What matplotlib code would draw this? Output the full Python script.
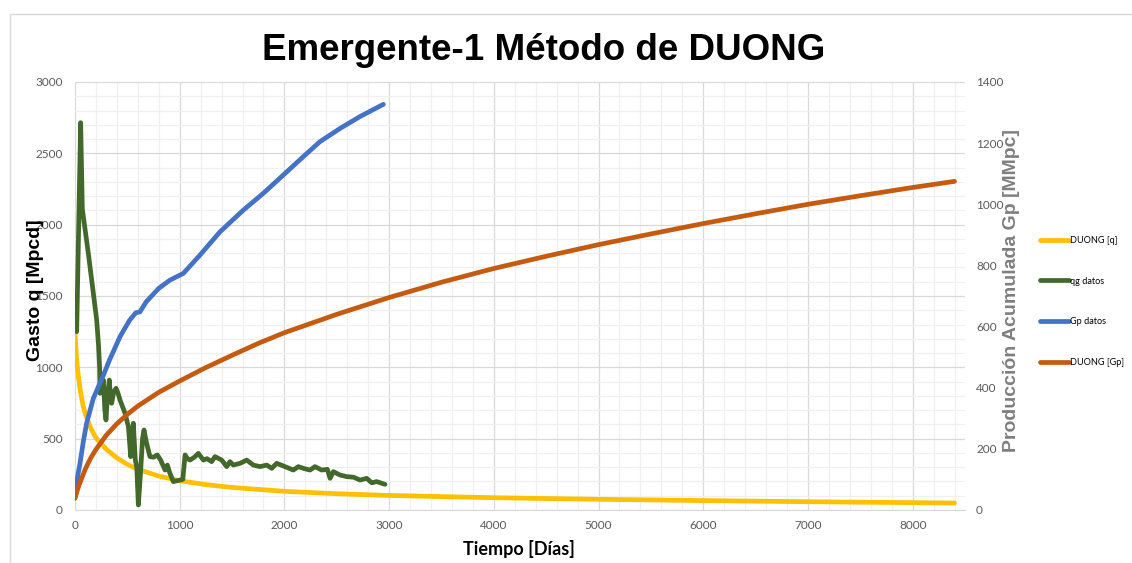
import matplotlib
matplotlib.use("Agg")
import matplotlib.pyplot as plt
from matplotlib.ticker import MultipleLocator
from matplotlib.patches import Rectangle

# ---- data ----
t_duong_q = [0, 5, 15, 30, 50, 75, 100, 150, 200, 300, 400, 500, 600, 800, 1000, 1250, 1500, 2000, 2500, 3000,
             4000, 5000, 6000, 7000, 8400]
q_duong = [1250, 1180, 1060, 950, 840, 740, 670, 575, 505, 425, 365, 320, 285, 238, 205, 178, 158, 131, 114, 102,
           86, 75, 66, 58, 49]

t_qg = [16, 54, 70, 127, 175, 207, 225, 235, 239, 255, 271, 285, 296, 310, 328, 340, 350, 370, 392, 410, 430, 478, 510, 532,
        557, 576, 590, 605, 625, 645, 659, 684, 716, 750, 786, 818, 860, 882, 905, 939, 1003, 1030, 1051, 1075, 1098,
        1140, 1178, 1226, 1260, 1305, 1337, 1401, 1449, 1480, 1512, 1576, 1640, 1703, 1767, 1831, 1879, 1926, 2006,
        2085, 2133, 2190, 2245, 2292, 2356, 2410, 2436, 2467, 2531, 2595, 2660, 2722, 2786, 2834, 2881, 2961]
q_datos = [1250, 2715, 2110, 1800, 1520, 1332, 1150, 1000, 818, 870, 911, 700, 631, 800, 911, 760, 748, 830, 853, 820, 771, 678, 584, 374,
           608, 350, 300, 35, 250, 500, 561, 467, 374, 370, 386, 350, 280, 315, 260, 199, 210, 215, 386, 360, 350,
           370, 397, 350, 360, 339, 374, 350, 304, 339, 315, 327, 350, 315, 304, 315, 292, 327, 304,
           280, 304, 290, 280, 304, 280, 285, 222, 269, 245, 234, 230, 210, 222, 191, 199, 180]

t_gp = [0, 20, 48, 80, 111, 175, 270, 330, 430, 520, 580, 620, 680, 800, 907, 1035, 1194, 1385, 1608, 1799, 2006,
        2181, 2340, 2531, 2722, 2945]
gp_datos = [38, 100, 153, 225, 284, 365, 440, 491, 567, 620, 645, 648, 681, 725, 752, 774, 834, 910, 981, 1036, 1101,
            1156, 1205, 1248, 1287, 1327]

t_duong_gp = [0, 10, 25, 50, 100, 150, 200, 300, 400, 500, 600, 800, 1000, 1250, 1500, 1750, 2000, 2500, 3000, 3500,
              4000, 4500, 5000, 5500, 6000, 6500, 7000, 7500, 8000, 8400]
gp_duong = [40, 50, 68, 92, 135, 170, 198, 245, 282, 313, 340, 385, 422, 466, 506, 545, 580, 640, 695, 745,
            790, 830, 868, 903, 937, 969, 1000, 1028, 1055, 1075]

labels = ["DUONG [q]", "qg datos", "Gp datos", "DUONG [Gp]"]
colors = ["#FFC000", "#43682B", "#4472C4", "#C55A11"]

W, H = 1132, 563
fig = plt.figure(figsize=(W / 100, H / 100), dpi=100)
fig.patch.set_facecolor("white")

# chart border
fig.patches.append(Rectangle((10 / W, -0.1), 1.2, 1 - 14 / H + 0.1, transform=fig.transFigure,
                             fill=False, edgecolor="#d9d9d9", lw=1.0))

ax = fig.add_axes([75 / W, 1 - 510 / H, (965 - 75) / W, (510 - 82) / H])
ax2 = ax.twinx()

lw = 3.4
kw = dict(lw=lw, solid_capstyle="round", solid_joinstyle="round")
l1, = ax.plot(t_duong_q, q_duong, color=colors[0], zorder=3, **kw)
l2, = ax.plot(t_qg, q_datos, color=colors[1], zorder=4, **kw)
l3, = ax2.plot(t_gp, gp_datos, color=colors[2], zorder=3, **kw)
l4, = ax2.plot(t_duong_gp, gp_duong, color=colors[3], zorder=4, **kw)

ax.set_xlim(0, 8500)
ax.set_ylim(0, 3000)
ax2.set_ylim(0, 1400)

ax.xaxis.set_major_locator(MultipleLocator(1000))
ax.xaxis.set_minor_locator(MultipleLocator(200))
ax.yaxis.set_major_locator(MultipleLocator(500))
ax.yaxis.set_minor_locator(MultipleLocator(100))
ax2.yaxis.set_major_locator(MultipleLocator(200))

ax.grid(which="major", color="#d9d9d9", lw=0.9)
ax.grid(which="minor", color="#f0f0f0", lw=0.9)
ax.set_axisbelow(True)

for a in (ax, ax2):
    for s in a.spines.values():
        s.set_visible(False)
ax.spines["bottom"].set_visible(True)
ax.spines["bottom"].set_color("#d9d9d9")

tick_font = "Lato"
ax.tick_params(axis="both", which="both", length=0, labelcolor="#595959", labelsize=8.5)
ax.tick_params(axis="y", pad=9)
ax.tick_params(axis="x", pad=7)
ax2.tick_params(axis="y", which="both", length=0, labelcolor="#595959", labelsize=8.5, pad=8)
for lab in ax.get_xticklabels() + ax.get_yticklabels() + ax2.get_yticklabels():
    lab.set_fontfamily(tick_font)

fig.text(544 / W, 1 - 50 / H, "Emergente-1 Método de DUONG", ha="center", va="center",
         fontsize=26.5, fontweight="bold", family="Liberation Sans")
fig.text(35 / W, 1 - 290 / H, "Gasto q [Mpcd]", rotation=90, ha="center", va="center",
         fontsize=14, fontweight="bold", family="Liberation Sans", color="black")
fig.text(1012 / W, 1 - 290 / H, "Producción Acumulada Gp [MMpc]", rotation=90, ha="center", va="center",
         fontsize=14, fontweight="bold", family="Liberation Sans", color="#7f7f7f")
fig.text(519 / W, 1 - 549 / H, "Tiempo [Días]", ha="center", va="center",
         fontsize=13, fontweight="bold", family="Lato", color="black")

leg = fig.legend([l1, l2, l3, l4], labels, loc="upper left", bbox_to_anchor=(1040 / W, 1 - 236 / H),
                 frameon=False, handlelength=3.2, handletextpad=0.1, labelspacing=3.45,
                 borderpad=0, borderaxespad=0, prop={"family": "Lato", "size": 6.6})

fig.savefig("out.png", dpi=100, facecolor="white")
